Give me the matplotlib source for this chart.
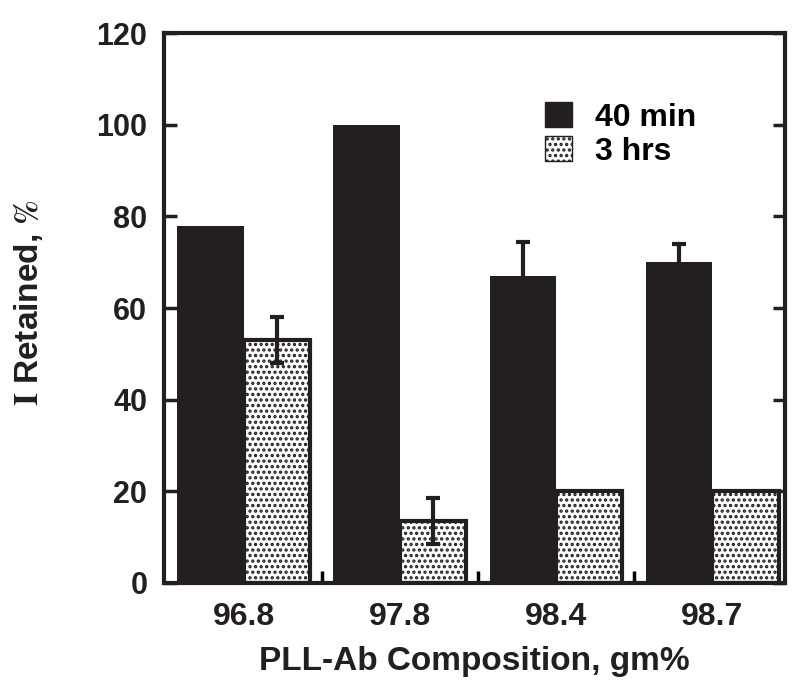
import numpy as np
import matplotlib
matplotlib.use('Agg')
import matplotlib.pyplot as plt
from matplotlib.patches import Patch

plt.rcParams['font.family'] = ['Liberation Sans', 'DejaVu Sans']
plt.rcParams['font.weight'] = 'bold'
plt.rcParams['mathtext.fontset'] = 'stix'
plt.rcParams['hatch.linewidth'] = 1.6

compositions = ['96.8', '97.8', '98.4', '98.7']
min40 = [78, 100, 67, 70]
min40_err = [0, 0, 7.5, 4]
hrs3 = [53, 13.5, 20, 20]
hrs3_err = [5, 5, 0, 0]

ink = '#231f20'

fig = plt.figure(figsize=(8, 6.93), dpi=100)
ax = fig.add_axes([0.205, 0.159, 0.776, 0.793])

x = np.arange(len(compositions))
w = 0.425

ax.bar(x - w / 2, min40, w, color=ink, edgecolor=ink, linewidth=0, label='40 min', zorder=2)
ax.bar(x + w / 2, hrs3, w, color='white', edgecolor=ink, linewidth=3, hatch='...', label='3 hrs', zorder=2)

# error bars (only where present)
for xi, v, e in zip(x - w / 2, min40, min40_err):
    if e > 0:
        ax.errorbar(xi, v, yerr=e, fmt='none', ecolor=ink, elinewidth=3, capsize=5, capthick=3, zorder=3)
for xi, v, e in zip(x + w / 2, hrs3, hrs3_err):
    if e > 0:
        ax.errorbar(xi, v, yerr=e, fmt='none', ecolor=ink, elinewidth=3, capsize=5, capthick=3, zorder=3)

ax.set_xlim(-0.51, 3.465)
ax.set_ylim(0, 120)
ax.set_yticks(range(0, 121, 20))
ax.set_xticks(x)
ax.set_xticklabels(compositions)
ax.set_xticks([0.5, 1.5, 2.5], minor=True)

ax.tick_params(axis='y', direction='in', length=9, width=2.5, labelsize=22, pad=12,
               right=True, colors=ink)
ax.tick_params(axis='x', which='major', length=0, labelsize=23, pad=14, colors=ink)
ax.tick_params(axis='x', which='minor', direction='in', length=9, width=2.5)

for s in ax.spines.values():
    s.set_linewidth(3)
    s.set_color(ink)

ax.set_xlabel('PLL-Ab Composition, gm%', fontsize=24, fontweight='bold', labelpad=10, color=ink)
ax.set_ylabel(r'$\mathrm{I}$ Retained, $\mathit{\%}$', fontsize=24, fontweight='bold', color=ink)
ax.yaxis.set_label_coords(-0.192, 0.51)

handles = [Patch(facecolor=ink, edgecolor=ink, label='40 min'),
           Patch(facecolor='white', edgecolor=ink, hatch='...', linewidth=1, label='3 hrs')]
ax.legend(handles=handles, loc='upper left', bbox_to_anchor=(0.614, 0.875), frameon=False,
          fontsize=23, handlelength=0.85, handleheight=0.85, handletextpad=0.7, labelspacing=0.1,
          borderpad=0, borderaxespad=0)

fig.savefig('out.png', dpi=100)
